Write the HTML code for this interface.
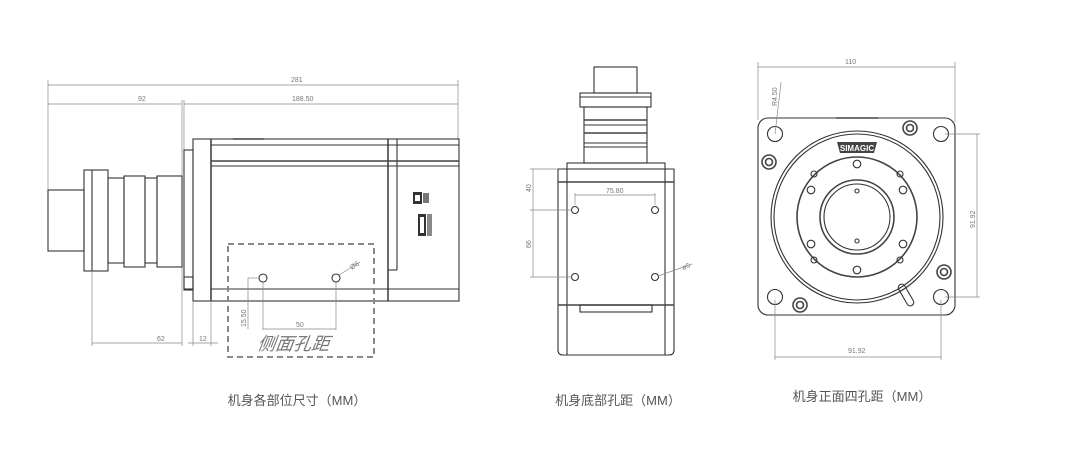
<!DOCTYPE html>
<html><head><meta charset="utf-8"><style>
html,body{margin:0;padding:0;background:#fff;width:1080px;height:466px;overflow:hidden}
svg{display:block}
.l{stroke:#333;stroke-width:1.1;fill:none}
.t{stroke:#444;stroke-width:1.6;fill:none}
.d{stroke:#888;stroke-width:.7;fill:none}
.dt{font-family:"Liberation Sans",sans-serif;font-size:7px;fill:#777}
.cap{font-family:"Liberation Sans","Noto Sans CJK SC",sans-serif;font-size:13px;fill:#555}
</style></head><body>
<svg width="1080" height="466" viewBox="0 0 1080 466">
<!-- LEFT VIEW -->
<g>
<line class="d" x1="48" y1="85" x2="458" y2="85"/><text class="dt" x="291" y="82">281</text>
<line class="d" x1="48" y1="104" x2="181" y2="104"/><text class="dt" x="138" y="101">92</text>
<line class="d" x1="184" y1="104" x2="458" y2="104"/><text class="dt" x="292" y="101">188.50</text>
<line class="d" x1="48" y1="80" x2="48" y2="250"/>
<line class="d" x1="182" y1="100" x2="182" y2="346"/>
<line class="d" x1="184" y1="100" x2="184" y2="150"/>
<line class="d" x1="458" y1="80" x2="458" y2="139"/>
<rect class="l" x="193" y="139" width="266" height="162"/>
<line class="t" x1="211" y1="139" x2="211" y2="301"/>
<line class="t" x1="388" y1="139" x2="388" y2="301"/>
<line class="l" x1="397" y1="139" x2="397" y2="270"/>
<line class="l" x1="388" y1="270" x2="397" y2="270"/>
<line class="l" x1="211" y1="145" x2="459" y2="145"/>
<line class="t" x1="211" y1="161" x2="459" y2="161"/>
<line class="l" x1="211" y1="166" x2="459" y2="166"/>
<line class="l" x1="211" y1="289" x2="459" y2="289"/>
<line class="t" x1="233" y1="139" x2="264" y2="139"/>
<rect class="l" x="184" y="150" width="9" height="140"/>
<rect class="l" x="184" y="277" width="9" height="12"/>
<rect class="l" x="84" y="170" width="24" height="101"/>
<line class="l" x1="92" y1="170" x2="92" y2="271"/>
<rect class="l" x="48" y="190" width="36" height="61"/>
<rect class="l" x="108" y="178" width="16" height="85"/>
<rect class="l" x="124" y="176" width="21" height="91"/>
<rect class="l" x="145" y="178" width="12" height="85"/>
<rect class="l" x="157" y="176" width="25" height="91"/>
<!-- connectors -->
<rect x="413" y="192" width="9" height="12" fill="#333"/>
<rect x="415" y="195" width="5" height="6" fill="#fff"/>
<rect x="423" y="193" width="6" height="10" fill="#777"/>
<rect x="418" y="214" width="8" height="22" fill="#333"/>
<rect x="420" y="217" width="4" height="16" fill="#fff"/>
<rect x="427" y="214" width="5" height="22" fill="#888"/>
<!-- bottom dims -->
<line class="d" x1="92" y1="271" x2="92" y2="346"/>
<line class="d" x1="92" y1="343" x2="182" y2="343"/><text class="dt" x="157" y="341">62</text>
<line class="d" x1="193" y1="301" x2="193" y2="346"/>
<line class="d" x1="211" y1="301" x2="211" y2="346"/>
<line class="d" x1="188" y1="343" x2="218" y2="343"/><text class="dt" x="199" y="341">12</text>
<rect x="228" y="244" width="146" height="113" fill="none" stroke="#888" stroke-width="2" stroke-dasharray="6 4"/>
<circle class="l" cx="263" cy="278" r="4"/>
<circle class="l" cx="336" cy="278" r="4"/>
<line class="d" x1="263" y1="282" x2="263" y2="330"/>
<line class="d" x1="336" y1="282" x2="336" y2="330"/>
<line class="d" x1="263" y1="329" x2="336" y2="329"/><text class="dt" x="296" y="327">50</text>
<line class="d" x1="248" y1="278" x2="248" y2="329"/>
<line class="d" x1="248" y1="278" x2="259" y2="278"/>
<text class="dt" transform="translate(246,327) rotate(-90)">15.50</text>
<line class="d" x1="339" y1="275" x2="360" y2="262"/>
<text class="dt" transform="translate(352,270) rotate(-35)">Ø6</text>
<text x="258" y="350" font-family="'Noto Sans CJK SC',sans-serif" font-size="18" font-style="italic" fill="#777" transform="skewX(-8) translate(48,0)">侧面孔距</text>
<text class="cap" x="297" y="405" text-anchor="middle">机身各部位尺寸（MM）</text>
</g>
<!-- MIDDLE VIEW -->
<g>
<rect class="l" x="594" y="67" width="43" height="26"/>
<rect class="l" x="580" y="93" width="71" height="14"/>
<line class="l" x1="580" y1="97" x2="651" y2="97"/>
<rect class="l" x="584" y="107" width="63" height="56"/>
<line class="t" x1="584" y1="120" x2="647" y2="120"/>
<line class="l" x1="584" y1="125" x2="647" y2="125"/>
<line class="t" x1="584" y1="133" x2="647" y2="133"/>
<line class="l" x1="584" y1="143" x2="647" y2="143"/>
<line class="l" x1="584" y1="147" x2="647" y2="147"/>
<rect class="l" x="567" y="163" width="98" height="6"/>
<path class="l" d="M558 169 H674 V350 Q674 355 669 355 H563 Q558 355 558 350 Z"/>
<line class="l" x1="567" y1="169" x2="567" y2="355"/>
<line class="l" x1="665" y1="169" x2="665" y2="355"/>
<line class="t" x1="558" y1="182" x2="674" y2="182"/>
<line class="t" x1="558" y1="305" x2="674" y2="305"/>
<rect class="l" x="580" y="305" width="72" height="7"/>
<circle class="l" cx="575" cy="210" r="3.5"/>
<circle class="l" cx="655" cy="210" r="3.5"/>
<circle class="l" cx="575" cy="277" r="3.5"/>
<circle class="l" cx="655" cy="277" r="3.5"/>
<line class="d" x1="575" y1="195" x2="655" y2="195"/>
<line class="d" x1="575" y1="193" x2="575" y2="205"/>
<line class="d" x1="655" y1="193" x2="655" y2="205"/>
<text class="dt" x="606" y="193">75.80</text>
<line class="d" x1="533" y1="169" x2="533" y2="277"/>
<line class="d" x1="530" y1="169" x2="558" y2="169"/>
<line class="d" x1="530" y1="210" x2="572" y2="210"/>
<line class="d" x1="530" y1="277" x2="572" y2="277"/>
<text class="dt" transform="translate(531,192) rotate(-90)">40</text>
<text class="dt" transform="translate(531,248) rotate(-90)">66</text>
<line class="d" x1="658" y1="276" x2="692" y2="264"/>
<text class="dt" transform="translate(683,270) rotate(-20)">ø5</text>
<text class="cap" x="618" y="405" text-anchor="middle">机身底部孔距（MM）</text>
</g>
<!-- RIGHT VIEW -->
<g>
<line class="d" x1="758" y1="67" x2="955" y2="67"/><text class="dt" x="845" y="64">110</text>
<line class="d" x1="758" y1="62" x2="758" y2="120"/>
<line class="d" x1="955" y1="62" x2="955" y2="122"/>
<rect class="l" x="758" y="118" width="197" height="197" rx="10"/>
<line class="t" x1="836" y1="118" x2="878" y2="118"/>
<circle class="l" cx="775" cy="134" r="7.5"/>
<circle class="l" cx="941" cy="134" r="7.5"/>
<circle class="l" cx="775" cy="297" r="7.5"/>
<circle class="l" cx="941" cy="297" r="7.5"/>
<g class="t"><circle cx="910" cy="128" r="7"/><circle cx="910" cy="128" r="3.5"/>
<circle cx="769" cy="162" r="7"/><circle cx="769" cy="162" r="3.5"/>
<circle cx="944" cy="272" r="7"/><circle cx="944" cy="272" r="3.5"/>
<circle cx="800" cy="305" r="7"/><circle cx="800" cy="305" r="3.5"/></g>
<circle class="l" cx="857" cy="217" r="86"/>
<circle class="l" cx="857" cy="217" r="83"/>
<circle class="t" cx="857" cy="217" r="60"/>
<circle class="t" cx="857" cy="217" r="37"/>
<circle class="l" cx="857" cy="217" r="33"/>
<g class="l">
<circle cx="857" cy="164" r="3.8"/><circle cx="857" cy="270" r="3.8"/>
<circle cx="811" cy="190" r="3.8"/><circle cx="903" cy="190" r="3.8"/>
<circle cx="811" cy="244" r="3.8"/><circle cx="903" cy="244" r="3.8"/>
<circle cx="857" cy="191" r="2"/><circle cx="857" cy="241" r="2"/>
<circle cx="814" cy="174" r="3"/><circle cx="900" cy="174" r="3"/>
<circle cx="814" cy="260" r="3"/><circle cx="900" cy="260" r="3"/>
</g>
<path d="M837 142 H877 L874 153 H840 Z" fill="#444"/>
<text x="857" y="151" text-anchor="middle" font-family="'Liberation Sans',sans-serif" font-size="8" font-weight="bold" fill="#fff">SIMAGIC</text>
<g transform="translate(906,295) rotate(-30)"><rect class="l" x="-3.5" y="-12" width="7" height="24" rx="3.5"/></g>
<line class="d" x1="977" y1="134" x2="977" y2="297"/>
<line class="d" x1="945" y1="134" x2="980" y2="134"/>
<line class="d" x1="945" y1="297" x2="980" y2="297"/>
<text class="dt" transform="translate(975,228) rotate(-90)">91.92</text>
<line class="d" x1="775" y1="300" x2="775" y2="360"/>
<line class="d" x1="941" y1="300" x2="941" y2="360"/>
<line class="d" x1="775" y1="357" x2="941" y2="357"/><text class="dt" x="848" y="353">91.92</text>
<line class="d" x1="775" y1="134" x2="781" y2="82"/>
<text class="dt" transform="translate(777,106) rotate(-90)">R4.50</text>
<text class="cap" x="862" y="401" text-anchor="middle">机身正面四孔距（MM）</text>
</g>
</svg>
</body></html>
